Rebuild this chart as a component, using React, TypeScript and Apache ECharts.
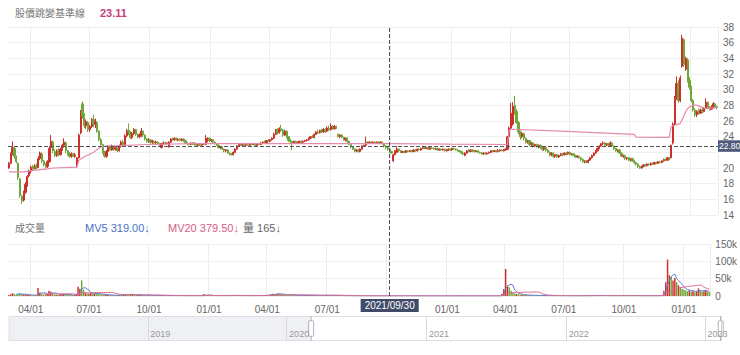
import React, { useEffect, useRef } from 'react';
import * as echarts from 'echarts';

// ---- categories / settings ----
const FIRST_DAY = '2018/01/01';
const LAST_DAY = '2023/02/10';
const WINDOW_START = '2020/02/28';
const CROSS_DATE = '2021/09/30';
const CROSS_PRICE = 22.8;

// ---- price candles [open, close, low, high] (one per two trading days) ----
const ohlc2020 = [
  [20.0,20.6,19.9,20.8],[20.6,21.8,20.5,22.0],[21.9,22.6,21.6,23.4],[22.5,21.5,21.2,22.7],[21.4,20.8,20.6,21.6],
  [20.6,18.8,18.5,20.7],[18.6,16.5,16.2,18.7],[16.4,15.8,15.4,16.6],[15.9,16.9,15.7,17.1],[16.9,17.9,16.7,18.2],
  [17.9,18.9,17.6,19.1],[19.0,19.6,18.8,19.8],[19.6,20.1,19.3,20.3],[20.2,19.9,19.7,20.4],[19.9,20.3,19.8,20.5],
  [20.3,20.0,19.8,20.6],[20.1,21.2,20.0,21.5],[21.2,21.9,21.0,22.1],[21.8,20.9,20.6,22.0],[20.9,20.4,20.2,21.0],
  [20.4,20.1,19.9,20.6],[20.2,20.8,20.0,21.0],[20.8,22.5,20.7,22.8],[22.6,23.4,22.4,24.2],[23.3,22.2,21.9,23.5],
  [22.1,21.6,21.4,22.4],[21.6,22.2,21.4,22.4],[22.2,21.7,21.5,22.5],[21.7,22.4,21.6,22.6],[22.4,22.9,22.2,23.1],
  [22.9,23.3,22.6,23.8],[23.2,22.2,21.9,23.4],[22.2,21.8,21.6,22.3],[21.8,21.5,21.3,22.0],[21.5,21.8,21.3,22.0],
  [21.8,21.5,21.4,21.9],[21.5,21.7,21.3,21.9],[20.3,21.3,20.1,21.4],[21.3,24.2,21.2,24.4],[24.5,27.0,24.3,27.4],
  [28.2,26.6,26.3,28.5],[26.6,25.4,25.1,27.0],[25.4,25.9,25.0,26.2],[25.8,24.9,24.6,26.0],[24.9,25.3,24.6,25.5],
  [25.3,26.2,25.1,26.4],[26.2,25.6,25.2,26.8],[25.6,25.9,25.1,26.3],[25.8,24.7,24.5,26.0],[24.7,23.6,23.4,24.8],
  [23.6,23.0,22.8,23.8],[23.0,22.0,21.8,23.1],[22.0,21.5,21.3,22.2],[21.5,22.1,21.3,22.3],[22.1,22.7,21.9,22.9],
  [22.7,22.3,22.2,22.9],[22.3,22.8,22.2,23.0],[22.8,22.4,22.2,22.9],[22.4,22.6,22.2,22.8],[22.5,22.2,22.0,22.6],
  [22.2,22.8,22.1,23.0],[22.8,23.3,22.6,23.5],[23.3,23.0,22.8,23.6],[23.0,24.1,22.9,24.3],[24.1,24.8,23.9,25.0],
  [24.8,24.6,24.2,25.7],[24.6,23.9,23.7,24.7],[23.9,24.4,23.7,24.6],[24.4,24.9,24.2,25.1],[24.9,24.3,24.1,25.0],
  [24.3,24.0,23.8,24.4],[24.0,24.2,23.8,24.4],[24.2,24.7,24.0,25.1],[24.7,24.2,23.9,24.8],[24.2,23.7,23.5,24.3],
  [23.7,23.4,23.2,23.8],[23.4,23.6,23.2,23.8],[23.6,23.3,23.1,23.7],[23.3,23.4,23.1,23.6],[23.4,23.2,23.0,23.5],
  [23.2,23.3,23.0,23.5],[23.3,23.1,23.0,23.4],[23.1,22.9,22.8,23.2],[22.6,23.1,22.5,23.2],[23.1,23.2,23.0,23.4],
  [23.2,23.1,23.0,23.3],[23.1,23.2,23.0,23.3],[22.7,23.3,22.6,23.4],[23.3,23.7,23.2,23.8],[23.7,23.6,23.5,23.9],
  [23.6,23.8,23.5,23.9],[23.8,23.6,23.5,23.9],[23.6,23.7,23.4,23.8],[23.7,23.5,23.4,23.8],[23.5,23.7,23.4,23.8],
  [23.7,23.5,23.3,23.8],[23.5,23.2,23.1,23.6],[23.2,23.1,22.9,23.3],[23.1,23.0,22.9,23.2],[23.0,23.2,22.9,23.3],
  [23.2,23.0,22.9,23.3],[23.0,23.1,22.9,23.3],[23.1,22.9,22.8,23.2],[22.9,23.0,22.8,23.1],[23.0,22.9,22.8,23.1],
  [22.9,23.1,22.8,23.2],[23.1,23.0,22.9,23.2],[23.0,23.5,22.9,24.2],[23.5,23.8,23.3,23.9],[23.8,23.5,23.3,23.9],
];
const ohlc2021 = [
  [23.5,23.6,23.3,23.7],[23.6,23.3,23.2,23.7],[23.3,23.1,23.0,23.4],[23.1,22.9,22.8,23.2],[22.9,22.6,22.5,23.0],
  [22.6,22.7,22.4,22.8],[22.7,22.4,22.3,22.8],[22.4,22.2,22.0,22.5],[22.2,22.3,22.0,22.4],[22.3,21.9,21.8,22.4],
  [21.9,21.8,21.6,22.0],[21.8,21.7,21.6,21.9],[21.7,22.0,21.6,22.1],[22.0,22.4,21.9,22.5],[22.4,22.8,22.3,22.9],
  [22.8,23.0,22.7,23.1],[23.0,22.9,22.8,23.2],[22.9,23.0,22.8,23.1],[23.0,22.9,22.7,23.1],[22.9,23.0,22.8,23.1],
  [23.0,22.9,22.8,23.1],[22.9,23.1,22.8,23.2],[23.1,23.0,22.9,23.2],[23.0,23.1,22.9,23.2],[23.1,22.9,22.8,23.2],
  [22.9,23.1,22.8,23.2],[23.1,23.0,22.9,23.2],[23.0,23.2,22.9,23.3],[23.2,23.3,23.1,23.4],[23.3,23.2,23.1,23.5],
  [23.2,23.5,23.1,23.6],[23.5,23.4,23.3,23.7],[23.4,23.6,23.3,23.7],[23.6,23.8,23.5,23.9],[23.8,24.3,23.7,24.5],
  [24.3,24.9,24.2,25.0],[24.9,24.5,24.3,25.1],[24.5,25.0,24.4,25.2],[25.0,24.8,24.6,25.5],[24.8,24.2,24.0,25.0],
  [24.2,24.7,24.1,24.9],[24.7,24.0,23.8,24.8],[24.0,23.5,23.3,24.1],[23.5,23.4,23.2,23.7],[23.4,23.2,22.3,23.5],
  [23.2,23.4,23.1,23.5],[23.4,23.2,23.1,23.5],[23.2,23.3,23.1,23.4],[23.3,23.4,23.2,23.5],[23.4,23.3,23.2,23.5],
  [23.3,23.4,23.2,23.5],[23.4,23.5,23.3,23.6],[23.5,23.6,23.4,23.7],[23.6,23.8,23.5,23.9],[23.8,24.0,23.7,24.1],
  [24.0,23.9,23.8,24.2],[23.9,24.3,23.8,24.4],[24.3,24.6,24.2,24.7],[24.6,24.5,24.3,24.9],[24.5,24.8,24.4,24.9],
  [24.8,24.6,24.5,25.0],[24.6,24.9,24.5,25.1],[24.9,24.7,24.5,25.1],[24.7,25.1,24.6,25.3],[25.1,24.9,24.7,25.4],
  [24.9,25.3,24.8,25.7],[25.3,25.0,24.9,25.5],[25.0,25.3,24.9,25.5],[25.3,25.1,25.0,25.4],[24.3,24.0,23.9,24.4],
  [24.0,24.2,23.8,24.3],[24.2,23.9,23.8,24.3],[23.9,23.6,23.5,24.0],[23.6,23.8,23.4,23.9],[23.8,23.4,23.2,23.9],
  [23.4,23.0,22.9,23.5],[23.0,22.7,22.5,23.1],[22.7,22.4,22.3,22.8],[22.4,22.2,22.0,22.5],[22.2,22.3,22.0,22.4],
  [22.3,22.1,22.0,22.4],[22.1,22.4,22.0,22.5],[22.4,22.8,22.3,22.9],[22.8,22.9,22.7,23.0],[22.9,23.3,22.8,24.0],
  [23.3,23.2,23.1,23.4],[23.2,23.3,23.1,23.4],[23.3,23.2,23.1,23.4],[23.2,23.3,23.1,23.4],[23.3,23.2,23.1,23.4],
  [23.2,23.3,23.1,23.4],[23.3,23.2,23.1,23.4],[23.2,23.3,23.1,23.4],[23.3,23.1,23.0,23.4],[23.1,22.8,22.7,23.2],
  [22.8,22.6,22.4,22.9],[22.6,22.4,22.2,22.7],[22.4,22.1,21.9,22.5],[22.1,21.9,21.8,22.2],[20.9,21.7,20.8,21.8],
  [21.7,22.2,21.6,22.3],[22.0,22.4,21.9,22.8],[22.4,22.2,22.0,22.5],[22.2,22.0,21.9,22.3],[22.0,22.1,21.9,22.2],
  [22.1,22.0,21.9,22.2],[22.0,22.2,21.9,22.3],[22.2,22.1,22.0,22.3],[22.1,22.2,22.0,22.3],[22.2,22.1,22.0,22.3],
  [22.1,22.3,22.0,22.4],[22.3,22.2,22.1,22.4],[22.2,22.4,22.1,22.5],[22.4,22.3,22.2,22.5],[22.3,22.5,22.2,22.6],
  [22.5,22.6,22.4,22.7],[22.6,22.5,22.4,22.7],[22.5,22.6,22.4,22.7],[22.6,22.4,22.3,22.7],[22.4,22.6,22.3,22.8],
  [22.6,22.5,22.4,22.7],[22.5,22.4,22.3,22.6],[22.4,22.5,22.3,22.6],[22.5,22.3,22.2,22.6],[22.3,22.4,22.2,22.5],
  [22.4,22.3,22.2,22.5],[22.3,22.4,22.2,22.5],[22.4,22.2,22.1,22.5],[22.2,22.3,22.1,22.4],[22.3,22.4,22.2,22.5],
  [22.4,22.3,22.2,22.5],
];
const ohlc2022 = [
  [22.3,22.5,22.2,22.6],[22.5,22.4,22.3,22.6],[22.4,22.3,22.2,22.5],[22.3,22.2,22.1,22.4],[22.2,22.1,22.0,22.3],
  [22.1,21.9,21.8,22.2],[21.9,21.8,21.6,22.0],[21.6,21.9,21.5,22.0],[21.9,22.2,21.8,22.3],[22.2,22.1,22.0,22.4],
  [22.1,22.3,22.0,22.4],[22.3,22.2,22.0,22.4],[22.2,22.1,22.0,22.3],[22.1,22.2,22.0,22.3],[22.2,22.0,21.9,22.3],
  [22.0,21.9,21.8,22.1],[21.9,21.8,21.7,22.0],[21.8,21.9,21.7,22.0],[21.9,21.8,21.7,22.0],[21.8,21.9,21.7,22.0],
  [21.9,22.0,21.8,22.1],[22.0,22.2,21.9,22.3],[22.2,22.1,22.0,22.3],[22.1,22.2,22.0,22.3],[22.2,22.1,22.0,22.3],
  [22.1,22.2,22.0,22.4],[22.2,22.3,22.1,22.4],[22.3,22.2,22.1,22.4],[22.2,22.3,22.1,22.4],[22.3,22.4,22.2,22.5],
  [22.4,24.0,22.3,24.1],[24.0,25.1,23.9,25.3],[25.1,27.0,24.9,28.3],[25.6,27.9,25.4,28.4],[28.0,27.2,26.8,29.2],
  [27.2,25.8,25.6,27.5],[25.8,24.6,24.3,26.0],[24.6,24.0,23.6,24.8],[24.0,24.4,23.8,24.6],[24.4,23.8,23.5,24.5],
  [23.8,23.3,23.1,23.9],[23.3,23.5,23.1,23.6],[23.5,23.0,22.8,23.6],[23.0,23.2,22.8,23.3],[23.2,22.8,22.6,23.3],
  [22.8,23.0,22.7,23.1],[23.0,22.7,22.6,23.1],[22.7,22.9,22.5,23.0],[22.9,22.6,22.4,23.0],[22.6,22.4,22.2,22.7],
  [22.4,22.6,22.2,22.7],[22.6,22.3,22.1,22.7],[22.3,22.0,21.9,22.4],[22.0,21.7,21.5,22.1],[21.7,21.9,21.5,22.0],
  [21.9,21.5,21.3,22.0],[21.5,21.7,21.3,21.8],[21.7,21.4,21.3,21.8],[21.4,21.6,21.3,21.7],[21.6,21.8,21.5,21.9],
  [21.8,21.7,21.5,21.9],[21.7,21.9,21.6,22.0],[21.9,21.8,21.6,22.0],[21.8,22.0,21.7,22.1],[22.0,21.7,21.6,22.1],
  [21.7,21.8,21.6,21.9],[21.8,21.6,21.5,21.9],[21.6,21.4,21.3,21.7],[21.4,21.5,21.3,21.6],[21.5,21.3,21.2,21.6],
  [21.3,21.1,20.9,21.4],[21.1,20.8,20.7,21.2],[20.8,20.9,20.6,21.0],[20.9,20.7,20.6,21.0],[20.7,21.0,20.6,21.1],
  [21.0,21.3,20.9,21.4],[21.3,21.6,21.2,21.7],[21.6,21.9,21.5,22.0],[21.9,22.2,21.8,22.3],[22.2,22.5,22.1,22.6],
  [22.5,22.8,22.4,22.9],[22.8,23.1,22.7,23.2],[23.1,23.2,22.9,23.4],[23.2,22.9,22.8,23.3],[22.9,23.1,22.8,23.2],
  [23.1,22.9,22.8,23.2],[22.9,23.2,22.8,23.4],[23.2,22.8,22.7,23.3],[22.8,22.5,22.3,22.9],[22.5,22.2,22.1,22.6],
  [22.2,22.3,22.0,22.4],[22.3,21.9,21.8,22.4],[21.9,21.5,21.4,22.0],[21.5,21.6,21.3,21.7],[21.6,21.2,21.0,21.7],
  [21.2,21.3,21.0,21.4],[21.3,21.0,20.9,21.4],[21.0,21.2,20.8,21.3],[21.2,20.9,20.8,21.3],[20.9,20.7,20.5,21.0],
  [20.7,20.5,20.3,20.8],[20.5,20.2,20.0,20.6],[20.2,20.0,19.9,20.3],[20.0,20.2,19.9,20.3],[20.2,20.4,20.1,20.5],
  [20.4,20.3,20.2,20.5],[20.3,20.5,20.2,20.6],[20.5,20.4,20.3,20.6],[20.4,20.6,20.3,20.7],[20.6,20.5,20.4,20.7],
  [20.5,20.7,20.4,20.8],[20.7,20.6,20.5,20.8],[20.6,20.8,20.5,20.9],[20.8,20.7,20.6,20.9],[20.7,20.9,20.6,21.0],
  [20.9,21.1,20.8,21.2],[21.1,21.0,20.9,21.2],[21.0,21.3,20.9,21.4],[21.3,21.2,21.0,21.4],[21.3,22.9,21.2,23.0],
  [23.2,25.6,23.0,25.8],[25.6,28.9,25.4,29.2],[29.0,30.8,28.7,31.7],[30.8,28.6,28.3,31.2],[28.6,31.5,28.4,31.8],
  [33.0,36.6,32.8,37.0],[36.4,33.2,32.9,36.5],[32.6,34.0,32.4,34.2],[33.8,31.2,30.9,34.0],[31.2,30.3,30.0,31.6],
];
const ohlc2023 = [
  [30.3,28.6,28.4,30.5],[28.6,27.4,27.2,28.8],[27.4,26.8,26.5,27.6],[26.8,27.2,26.5,27.4],[27.2,27.0,26.8,27.6],
  [27.0,27.4,26.9,27.6],[27.4,27.2,27.0,27.7],[27.2,27.6,27.1,27.8],[27.6,28.4,27.5,28.9],[28.4,27.7,27.5,28.5],
  [27.7,27.5,27.3,27.9],[27.5,27.8,27.4,28.0],[27.8,28.2,27.7,28.4],[28.2,27.8,27.6,28.3],[27.8,27.7,27.5,28.0],
];

// ---- volume (lots) ----
const volume2020 = [
  3200,4100,8200,5600,3900,6100,7400,5200,4300,3600,3100,2800,2500,2200,2400,2100,
  23000,9500,6200,4100,3500,6800,14800,12500,7200,4300,
  3800,3100,3600,4800,6500,4200,3100,2600,2400,2200,
  2500,5200,27000,21000,45000,18000,9800,7500,6200,8400,
  9100,6300,5800,6900,5100,4800,4200,3600,3100,2700,
  2500,2300,2100,2000,2400,2900,2600,4500,5200,6100,
  4400,3800,4200,3300,2800,2600,3900,3100,2600,2200,
  1900,1800,1700,1500,1600,1400,1500,1900,1300,1200,
  1100,1600,1500,1200,1300,1100,1000,1200,1100,900,
  1000,900,850,950,800,900,850,750,800,900,
  1100,5800,3200,2100,
];
const volume2021 = [
  1600,1400,1200,1100,1000,950,900,1100,1000,1200,1300,1400,1200,1500,1700,
  1800,1500,1300,1200,1100,1000,1200,1100,950,900,1000,1100,1300,1500,1400,1800,
  2200,2600,3100,4800,6200,5100,5800,7900,5600,4300,3800,3100,2700,4200,2500,
  2100,1900,1700,1600,1500,1400,1600,1800,2100,1900,2300,2500,2200,2000,1800,
  2100,1900,2300,2000,2600,2200,1900,1700,2400,1800,1500,1300,1000,900,800,650,500,
  380,420,350,460,390,520,610,300,280,350,410,380,390,440,315,
  290,310,420,410,165,
  380,620,540,480,420,350,310,300,280,330,360,310,290,350,400,380,420,460,390,350,
  410,380,330,300,280,320,350,310,290,330,360,300,280,
];
const volume2022 = [
  300,320,280,350,330,420,510,460,390,350,320,300,280,310,290,330,360,340,310,300,
  280,320,350,330,300,290,320,360,410,520,
  6800,20000,78000,30000,25000,15000,9800,7200,6100,5200,
  4300,3600,3100,2800,2500,2300,2100,1900,1800,1600,1500,1400,1300,1200,1100,1000,950,900,850,800,
  750,700,680,650,620,600,580,560,540,520,550,600,580,620,700,820,900,1100,1300,1200,
  1500,1700,1900,1600,1300,1400,1200,1000,950,900,850,800,780,760,740,820,700,680,900,1100,
  1200,1300,1500,1100,900,800,750,700,680,720,650,700,680,720,800,900,1000,1200,1500,
  15000,40000,105000,60000,55000,45000,52000,40000,31000,25000,21000,
];
const volume2023 = [18000,16000,14000,17000,12000,15000,11000,13000,22000,16000,12000,14000,17000,13000,11000];

// ---- 股價跳變基準線 breakpoints (candle number in the window, value) ----
const baselineAt = [0, 8, 13, 21, 24, 37, 38, 40, 46, 50, 53, 60, 75, 100, 207, 240, 270, 271, 272, 273, 300, 340, 341, 359, 360, 365, 366, 367, 368, 369, 370, 372, 374, 378, 380, 385];
const baselineValue = [19.5, 19.5, 19.7, 19.9, 20.0, 20.1, 21.0, 21.3, 22.0, 22.7, 22.8, 22.85, 23.0, 23.1, 23.11, 23.05, 23.0, 23.0, 24.9, 24.95, 24.7, 24.3, 23.95, 23.9, 25.3, 25.7, 26.2, 26.7, 27.2, 27.6, 27.8, 28.05, 28.0, 27.65, 27.6, 27.7];

// ---- axis ticks ----
const priceMin = 14, priceMax = 38, priceStep = 2;
const volMin = 0, volMax = 150000, volStep = 50000;

const UP = '#cf2f2a';
const DOWN = '#6ea83a';
const FONT = 'Arial, "Liberation Sans", "Noto Sans CJK TC", sans-serif';
const CJK = '"Noto Sans CJK TC", "Noto Sans CJK SC", sans-serif';

function pad(n: number) { return n < 10 ? '0' + n : '' + n; }
function buildDates(): string[] {
  const out: string[] = [];
  const [y0, m0, d0] = FIRST_DAY.split('/').map(Number);
  const [y1, m1, d1] = LAST_DAY.split('/').map(Number);
  const d = new Date(Date.UTC(y0, m0 - 1, d0));
  const end = Date.UTC(y1, m1 - 1, d1);
  let n = 0;
  while (d.getTime() <= end) {
    const wd = d.getUTCDay();
    if (wd !== 0 && wd !== 6) {
      if (n % 2 === 0) out.push(`${d.getUTCFullYear()}/${pad(d.getUTCMonth() + 1)}/${pad(d.getUTCDate())}`);
      n++;
    }
    d.setUTCDate(d.getUTCDate() + 1);
  }
  return out;
}

function buildOption(): any {
  const dates = buildDates();
  const startIdx = Math.max(0, dates.indexOf(WINDOW_START));
  const ohlc = [...ohlc2020, ...ohlc2021, ...ohlc2022, ...ohlc2023];
  const vols = [...volume2020, ...volume2021, ...volume2022, ...volume2023];
  const EMPTY = ['-', '-', '-', '-'];
  const candleData = dates.map((_, g) => {
    const k = g - startIdx;
    return k >= 0 && k < ohlc.length ? ohlc[k] : EMPTY;
  });
  const volNum: (number | null)[] = dates.map((_, g) => {
    const k = g - startIdx;
    return k >= 0 && k < vols.length ? vols[k] : null;
  });
  const volData = dates.map((_, g) => {
    const k = g - startIdx;
    if (k < 0 || k >= vols.length) return '-';
    const c = ohlc[k] || [0, 0];
    return { value: vols[k], itemStyle: { color: c[1] >= c[0] ? UP : DOWN } };
  });
  const ma = (n: number) => volNum.map((_, g) => {
    if (g < n - 1) return '-';
    let s = 0;
    for (let j = g - n + 1; j <= g; j++) {
      const x = volNum[j];
      if (x == null) return '-';
      s += x;
    }
    return s / n;
  });
  const ma5 = ma(5);
  const ma20 = ma(20);
  const closes = candleData.map((c: any) => c[1]);
  const baseline = baselineAt.map((k, j) => [dates[startIdx + k], baselineValue[j]]);

  const crossIdx = dates.indexOf(CROSS_DATE);
  const crossK = crossIdx - startIdx;
  const bi = baselineAt.indexOf(crossK);
  const baseText = (bi >= 0 ? baselineValue[bi] : 23.11).toFixed(2);
  const ma5Text = Number(ma5[crossIdx]).toFixed(2);
  const ma20Text = Number(ma20[crossIdx]).toFixed(2);
  const volText = String(volNum[crossIdx]);

  const isQuarter = dates.map((d, i) => {
    if (i === 0) return false;
    const m = d.slice(5, 7);
    return (m === '01' || m === '04' || m === '07' || m === '10') && dates[i - 1].slice(5, 7) !== m;
  });
  const isYear = dates.map((d, i) => i > 0 && dates[i - 1].slice(0, 4) !== d.slice(0, 4));
  const qInt = (i: number) => isQuarter[i];
  // labels covered by the crosshair's own labels are left out, as in the reference
  const qLabel = (i: number) => isQuarter[i] && Math.abs(i - crossIdx) > 6;
  const yInt = (i: number) => isYear[i];

  return {
    animation: false,
    backgroundColor: '#ffffff',
    textStyle: { fontFamily: FONT },
    grid: [
      { left: 8, right: 22, top: 27, height: 188 },
      { left: 8, right: 22, top: 244, height: 52 },
      { left: 8, right: 19, top: 316, height: 25 },
      { left: 8, right: 22, top: 27, height: 269 },
    ],
    xAxis: [
      {
        type: 'category', gridIndex: 0, data: dates, boundaryGap: true,
        axisLine: { show: false }, axisTick: { show: false }, axisLabel: { show: false },
        splitLine: { show: true, interval: qInt, lineStyle: { color: '#ededed' } },
      },
      {
        type: 'category', gridIndex: 1, data: dates, boundaryGap: true,
        axisLine: { show: false }, axisTick: { show: false },
        axisLabel: { interval: qLabel, formatter: (v: string) => v.slice(5, 7) + '/01', color: '#666', fontSize: 10, margin: 8, fontFamily: FONT },
        splitLine: { show: true, interval: qInt, lineStyle: { color: '#ededed' } },
      },
      {
        type: 'category', gridIndex: 2, data: dates, boundaryGap: true, z: 6,
        axisLine: { show: false }, axisTick: { show: false },
        axisLabel: { inside: true, interval: yInt, formatter: (v: string) => v.slice(0, 4), color: '#999', fontSize: 9, align: 'left', margin: 3, padding: [0, 0, 0, 2], fontFamily: FONT },
        splitLine: { show: true, interval: yInt, lineStyle: { color: '#d8d8d8' } },
      },
      { type: 'category', gridIndex: 3, data: dates, boundaryGap: true, show: false },
    ],
    yAxis: [
      {
        type: 'value', gridIndex: 0, position: 'right', min: priceMin, max: priceMax, interval: priceStep,
        axisLine: { show: false }, axisTick: { show: false },
        axisLabel: {
          color: '#666', fontSize: 10, margin: 5, fontFamily: FONT,
          formatter: (v: number) => (Math.abs(v - CROSS_PRICE) < 1 ? '' : String(v)),
        },
        splitLine: { lineStyle: { color: '#f0f0f0' } },
      },
      {
        type: 'value', gridIndex: 1, position: 'right', min: volMin, max: volMax, interval: volStep,
        axisLine: { show: false }, axisTick: { show: false },
        axisLabel: { color: '#666', fontSize: 10, margin: 5, fontFamily: FONT, formatter: (v: number) => (v === 0 ? '0' : v / 1000 + 'k') },
        splitLine: { lineStyle: { color: '#f0f0f0' } },
      },
      { type: 'value', gridIndex: 2, show: false },
      { type: 'value', gridIndex: 3, show: false, min: priceMin, max: priceMax },
    ],
    dataZoom: [
      {
        type: 'slider', xAxisIndex: [0, 1, 3], startValue: startIdx, endValue: dates.length - 1,
        left: 8, right: 19, top: 316, height: 25,
        showDetail: false, showDataShadow: false, brushSelect: false, moveHandleSize: 0,
        backgroundColor: '#eef0f3', fillerColor: '#ffffff', borderColor: '#dcdfe4', borderRadius: 0,
        handleStyle: { color: '#ffffff', borderColor: '#a9b1bf' },
        zoomLock: true,
      },
    ],
    series: [
      {
        type: 'candlestick', xAxisIndex: 0, yAxisIndex: 0, data: candleData, large: false,
        barWidth: '95%',
        itemStyle: { color: UP, color0: DOWN, borderColor: UP, borderColor0: DOWN, borderWidth: 1 },
        markLine: {
          silent: true, symbol: ['none', 'none'], animation: false,
          lineStyle: { type: 'dashed', color: '#555', width: 1 },
          label: {
            show: true, position: 'end', formatter: CROSS_PRICE.toFixed(2), color: '#fff',
            backgroundColor: '#4d5a7a', padding: [2, 1, 1, 1], fontSize: 8.5, distance: 0, fontFamily: FONT,
          },
          data: [{ yAxis: CROSS_PRICE }],
        },
      },
      {
        type: 'line', xAxisIndex: 0, yAxisIndex: 0, data: baseline, symbol: 'none', z: 3,
        lineStyle: { color: '#e58aab', width: 1.2 },
      },
      {
        type: 'bar', xAxisIndex: 1, yAxisIndex: 1, data: volData, barWidth: '80%',
      },
      {
        type: 'line', xAxisIndex: 1, yAxisIndex: 1, data: ma5, symbol: 'none', z: 3,
        lineStyle: { color: '#5b7fd3', width: 1 },
      },
      {
        type: 'line', xAxisIndex: 1, yAxisIndex: 1, data: ma20, symbol: 'none', z: 3,
        lineStyle: { color: '#de6c8e', width: 1 },
      },
      {
        type: 'line', xAxisIndex: 3, yAxisIndex: 3, data: closes, symbol: 'none', silent: true, z: 10,
        lineStyle: { opacity: 0 },
        markLine: {
          silent: true, symbol: ['none', 'none'], animation: false,
          lineStyle: { type: 'dashed', color: '#555', width: 1 },
          label: {
            show: true, position: 'start', formatter: CROSS_DATE, color: '#fff',
            backgroundColor: '#3f4b69', padding: [2, 4, 1, 4], fontSize: 10, distance: 3, fontFamily: FONT,
          },
          data: [{ xAxis: CROSS_DATE }],
        },
      },
    ],
    graphic: [
      { type: 'text', left: 15, top: 7, style: { text: '股價跳變基準線', fill: '#777', font: `10px ${CJK}` } },
      { type: 'text', left: 100, top: 7, style: { text: baseText, fill: '#c2427a', font: `bold 11px ${FONT}` } },
      { type: 'text', left: 15, top: 222, style: { text: '成交量', fill: '#777', font: `10px ${CJK}` } },
      { type: 'text', left: 85, top: 222, style: { text: `MV5 ${ma5Text}↓`, fill: '#4a73c4', font: `11px ${FONT}` } },
      { type: 'text', left: 168, top: 222, style: { text: `MV20 ${ma20Text}↓`, fill: '#d65c86', font: `11px ${FONT}` } },
      { type: 'text', left: 243, top: 222, style: { text: `量 ${volText}↓`, fill: '#666', font: `11px ${FONT}` } },
    ],
  };
}

export default function App() {
  const ref = useRef<HTMLDivElement>(null);
  useEffect(() => {
    document.body.style.margin = '0';
    const chart = echarts.init(ref.current as HTMLDivElement, undefined, { renderer: 'svg' });
    chart.setOption(buildOption());
    return () => chart.dispose();
  }, []);
  return <div ref={ref} style={{ position: 'absolute', left: 0, top: 0, width: 740, height: 355 }} />;
}
